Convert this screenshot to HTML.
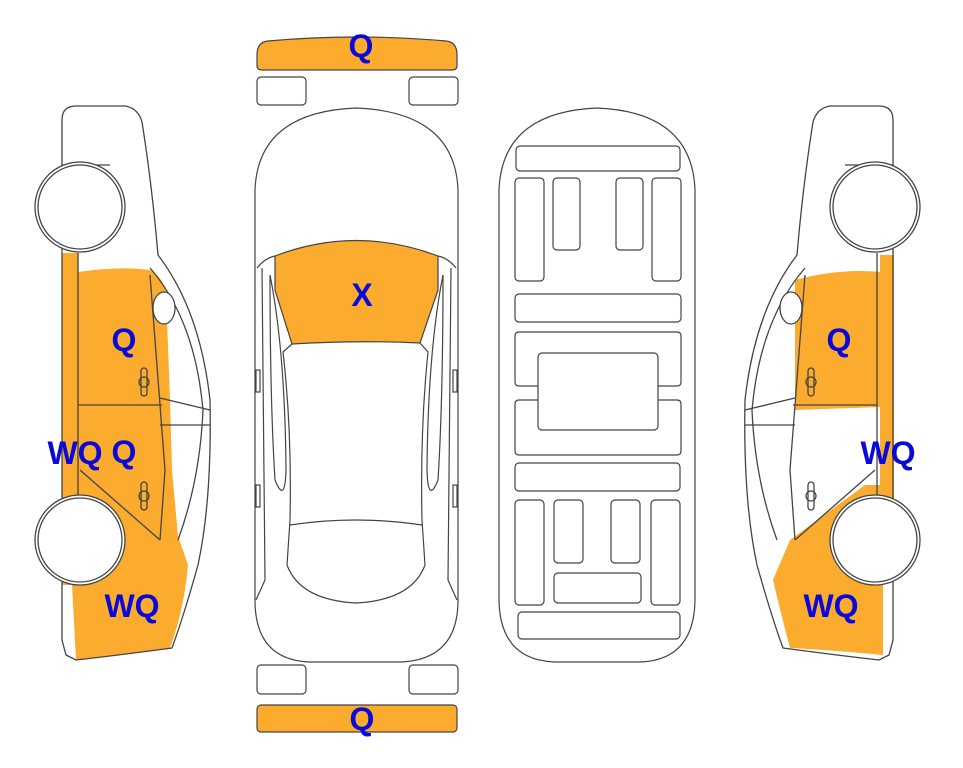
<!DOCTYPE html>
<html><head><meta charset="utf-8"><style>
html,body{margin:0;padding:0;background:#fff;}
svg{display:block;}
text{font-family:"Liberation Sans",sans-serif;font-weight:bold;fill:#0a0ad8;font-size:32px;text-anchor:middle;dominant-baseline:central;}
</style></head><body>
<svg width="963" height="768" viewBox="0 0 963 768" xmlns="http://www.w3.org/2000/svg">
<defs>
<g id="side" fill="none" stroke="#444" stroke-width="1.3">
  <path d="M66,655 L62,640 L62,120 Q62,106 76,106 L125,106 Q138,108 142,122 Q152,185 158,255 Q200,310 210,400 Q212,500 198,565 Q184,615 172,648 Q120,655 76,660 Z"/>
  <path d="M62,165 L110,165"/>
  <path d="M150,268 Q195,320 203,410 Q200,480 178,540"/>
  <path d="M160,398 L210,410 M160,425 L210,425"/>
  <path d="M78,405 L162,405"/>
  <path d="M78,253 L78,500 M150,275 L160,405 L165,470 L160,540"/>
  <path d="M80,470 L160,540"/>
  <ellipse cx="164" cy="308" rx="11" ry="16" fill="#fff"/>
  <rect x="141" y="368" width="6" height="28" rx="3"/><circle cx="144" cy="382" r="5"/>
  <rect x="141" y="482" width="6" height="28" rx="3"/><circle cx="144" cy="496" r="5"/>
  <circle cx="80" cy="207" r="45" fill="#fff"/><circle cx="80" cy="207" r="42" fill="#fff"/>
  <circle cx="80" cy="540" r="45" fill="#fff"/><circle cx="80" cy="540" r="42" fill="#fff"/>
</g>
</defs>

<!-- left car orange -->
<path d="M62,253 L78,253 L78,272 Q120,266 150,270 Q162,276 166,292 L170,400 L172,470 L178,536 L188,565 Q184,610 170,648 Q120,655 76,660 L72,585 L62,585 Z" fill="#fbab2e"/>
<use href="#side"/>

<!-- right car orange -->
<path d="M880,255 L894,255 L894,500 L883,500 L883,655 Q830,650 790,648 Q780,610 773,580 L790,540 L865,485 L880,485 Z" fill="#fbab2e"/>
<path d="M795,280 Q840,268 880,272 L880,407 L795,410 Z" fill="#fbab2e"/>
<use href="#side" transform="translate(955,0) scale(-1,1)"/>

<!-- top view -->
<path d="M257,55 Q257,42 268,41 Q357,33 446,41 Q457,42 457,55 L457,66 Q457,70 452,70 L262,70 Q257,70 257,66 Z" fill="#fbab2e" stroke="#444" stroke-width="1.2"/>
<rect x="257" y="77" width="49" height="28" rx="4" fill="none" stroke="#444" stroke-width="1.2"/>
<rect x="409" y="77" width="49" height="28" rx="4" fill="none" stroke="#444" stroke-width="1.2"/>
<rect x="257" y="665" width="49" height="29" rx="4" fill="none" stroke="#444" stroke-width="1.2"/>
<rect x="409" y="665" width="49" height="29" rx="4" fill="none" stroke="#444" stroke-width="1.2"/>
<rect x="257" y="705" width="200" height="27" rx="4" fill="#fbab2e" stroke="#444" stroke-width="1.2"/>
<g fill="none" stroke="#444" stroke-width="1.2">
<path d="M255,190 Q258,112 356,108 Q455,112 458,190 L458,600 Q458,660 400,662 L310,662 Q255,660 255,600 Z"/>
<path d="M275,256 Q356,225 438,256 L438,290 L420,343 Q356,340 292,344 L275,290 Z" fill="#fbab2e"/>
<path d="M257,268 Q265,258 275,256 M456,268 Q448,258 438,256"/>
<path d="M292,344 L283,352 Q292,430 290,520 L287,565 Q300,600 356,603 Q412,600 425,565 L422,520 Q420,430 428,352 L420,343"/>
<path d="M290,525 Q356,515 422,525"/>
<path d="M262,268 L265,580 L256,600 M451,268 L448,580 L457,600"/>
<path d="M270,275 Q285,350 286,470 Q285,505 275,480 Q270,400 270,275 M443,275 Q428,350 427,470 Q428,505 438,480 Q443,400 443,275"/>
<rect x="256" y="370" width="4" height="22"/><rect x="256" y="485" width="4" height="22"/>
<rect x="453" y="370" width="4" height="22"/><rect x="453" y="485" width="4" height="22"/>
</g>

<!-- underbody -->
<g fill="none" stroke="#444" stroke-width="1.2">
<path d="M499,190 Q502,112 597,108 Q692,112 695,190 L695,600 Q694,660 640,662 L555,662 Q500,660 499,600 Z"/>
<rect x="516" y="146" width="164" height="25" rx="4"/>
<rect x="515" y="178" width="29" height="103" rx="4"/>
<rect x="553" y="178" width="27" height="72" rx="4"/>
<rect x="616" y="178" width="27" height="72" rx="4"/>
<rect x="652" y="178" width="29" height="103" rx="4"/>
<rect x="515" y="294" width="166" height="28" rx="4"/>
<path d="M538,386 L519,386 Q515,386 515,382 L515,336 Q515,332 519,332 L677,332 Q681,332 681,336 L681,382 Q681,386 677,386 L658,386"/>
<path d="M538,400 L519,400 Q515,400 515,404 L515,451 Q515,455 519,455 L677,455 Q681,455 681,451 L681,404 Q681,400 677,400 L658,400"/>
<rect x="538" y="353" width="120" height="77" rx="4"/>
<rect x="515" y="463" width="165" height="28" rx="4"/>
<rect x="515" y="500" width="29" height="105" rx="4"/>
<rect x="554" y="500" width="29" height="63" rx="4"/>
<rect x="611" y="500" width="29" height="63" rx="4"/>
<rect x="651" y="500" width="29" height="105" rx="4"/>
<rect x="554" y="573" width="87" height="30" rx="4"/>
<rect x="518" y="612" width="162" height="27" rx="4"/>
</g>

<text x="361" y="46">Q</text>
<text x="362" y="295">X</text>
<text x="124" y="340">Q</text>
<text x="75" y="453">WQ</text>
<text x="124" y="452">Q</text>
<text x="132" y="606">WQ</text>
<text x="362" y="719">Q</text>
<text x="839" y="340">Q</text>
<text x="888" y="453">WQ</text>
<text x="831" y="606">WQ</text>
</svg>
</body></html>
